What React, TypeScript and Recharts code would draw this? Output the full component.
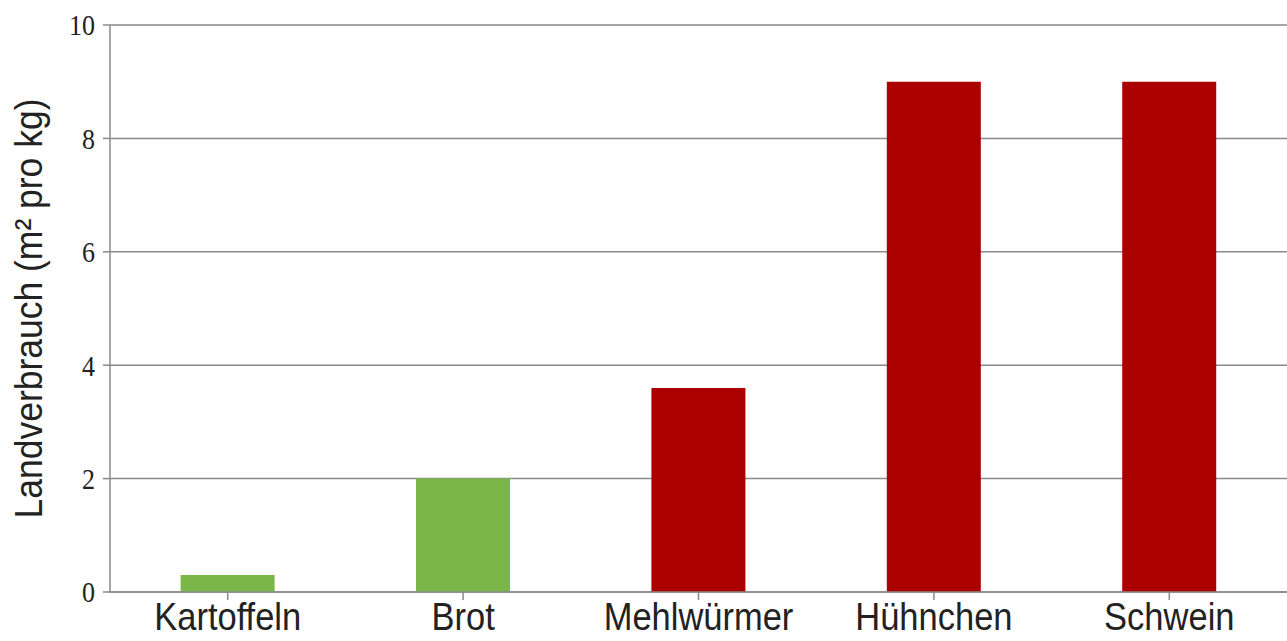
import React from 'react';
import { BarChart, Bar, XAxis, YAxis, CartesianGrid, Cell, Label } from 'recharts';

const categories = ['Kartoffeln', 'Brot', 'Mehlwürmer', 'Hühnchen', 'Schwein'];
const landUse = [0.3, 2.0, 3.6, 9.0, 9.0];
const groups = ['plant', 'plant', 'animal', 'animal', 'animal'];
const yTicks = [0, 2, 4, 6, 8, 10];
const yLabel = 'Landverbrauch (m² pro kg)';

const groupColor: Record<string, string> = { plant: '#7ab648', animal: '#aa0000' };

const data = categories.map((name, i) => ({ name, value: landUse[i], group: groups[i] }));

const XTick = (props: any) => {
  const { x, y, payload } = props;
  return (
    <g transform={`translate(${x},${y})`}>
      <text
        transform="scale(1,1.1)"
        textAnchor="middle"
        dy="0.74em"
        fontFamily="'Liberation Sans', Arial, sans-serif"
        fontSize={34.5}
        fill="#222"
      >
        {payload.value}
      </text>
    </g>
  );
};

const YTick = (props: any) => {
  const { x, y, payload } = props;
  return (
    <g transform={`translate(${x},${y})`}>
      <text
        transform="scale(1,1.17)"
        textAnchor="end"
        dy="0.34em"
        fontFamily="'Liberation Serif', 'Times New Roman', serif"
        fontSize={26}
        fill="#222"
      >
        {payload.value}
      </text>
    </g>
  );
};

const YLabelContent = (props: any) => {
  const { viewBox } = props;
  const cx = 42;
  const cy = viewBox.y + viewBox.height / 2;
  return (
    <g transform={`translate(${cx},${cy}) rotate(-90)`}>
      <text
        transform="scale(0.91,1)"
        textAnchor="middle"
        fontFamily="'Liberation Sans', Arial, sans-serif"
        fontSize={39}
        fill="#222"
      >
        {yLabel}
      </text>
    </g>
  );
};

export default function App() {
  return (
    <div style={{ position: 'absolute', left: 0, top: 0, width: 1287, height: 641, background: '#fff' }}>
      <BarChart
        width={1287}
        height={641}
        data={data}
        margin={{ top: 25, right: 0, bottom: 0, left: 0 }}
        barCategoryGap="30%"
      >
        <CartesianGrid vertical={false} stroke="#8a8a8a" strokeWidth={1.5} />
        <XAxis
          dataKey="name"
          height={49}
          tick={<XTick />}
          tickSize={8}
          tickMargin={2}
          axisLine={{ stroke: '#8a8a8a', strokeWidth: 1.5 }}
          tickLine={{ stroke: '#8a8a8a', strokeWidth: 1.5 }}
          interval={0}
        />
        <YAxis
          width={110}
          domain={[0, 10]}
          ticks={yTicks}
          tick={<YTick />}
          tickSize={7}
          tickMargin={8}
          axisLine={{ stroke: '#8a8a8a', strokeWidth: 1.5 }}
          tickLine={{ stroke: '#8a8a8a', strokeWidth: 1.5 }}
        >
          <Label content={<YLabelContent />} />
        </YAxis>
        <Bar dataKey="value" isAnimationActive={false}>
          {data.map((d, i) => (
            <Cell key={i} fill={groupColor[d.group]} />
          ))}
        </Bar>
      </BarChart>
    </div>
  );
}
